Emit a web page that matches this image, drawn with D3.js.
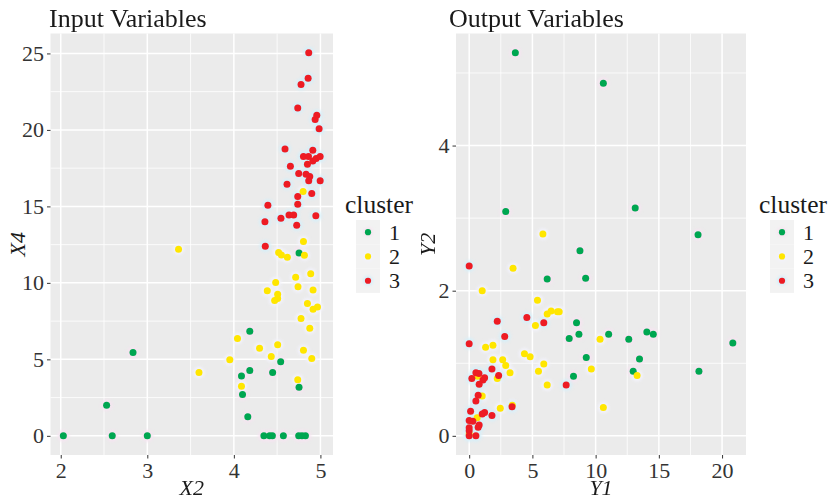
<!DOCTYPE html>
<html><head><meta charset="utf-8">
<script src="https://cdn.jsdelivr.net/npm/d3@7/dist/d3.min.js"></script>
<style>
body{margin:0;background:#fff}
svg text{font-family:"Liberation Serif","Tinos","Times New Roman","DejaVu Serif","Noto Serif",serif !important}
</style>
</head><body>
<svg id="chart" width="832" height="498"></svg>
<script>
// ---------- data ----------
const clusters = ["1", "2", "3"];
const clusterColors = ["#00A651", "#FFE600", "#ED1C24"];
const haloColors = ["#F7E4F1", "#F2F2FC", "#D4EFFA"];

// Input Variables: [X2, X4]
const input1 = [[2.03,0],[2.595,0],[3.0,0],[4.347,0],[4.413,0],[4.445,0],[4.572,0],[4.749,0],[4.787,0],[4.827,0],
  [2.53,2.0],[2.835,5.45],[4.161,1.24],[4.10,2.70],[4.088,3.92],[4.184,4.27],[4.184,6.84],[4.448,4.14],[4.541,4.84],
  [4.753,3.18],[4.753,11.96]];
const input2 = [[3.361,12.2],[3.597,4.14],[3.953,4.97],[4.042,6.36],[4.088,3.25],[4.297,5.73],[4.432,5.19],[4.506,5.95],
  [4.804,5.60],[4.90,5.06],[4.738,3.66],[4.877,7.04],[4.776,7.67],[4.915,8.28],[4.966,8.43],[4.85,8.65],[4.471,8.85],
  [4.506,8.98],[4.506,9.26],[4.386,9.48],[4.915,9.54],[4.741,9.74],[4.483,10.03],[4.714,10.37],[4.888,10.59],
  [4.618,11.68],[4.815,11.81],[4.549,11.83],[4.517,11.99],[4.804,12.70],[4.80,15.97]];
const input3 = [[4.363,12.40],[4.359,13.99],[4.726,13.77],[4.544,14.23],[4.637,14.44],[4.691,14.44],[4.947,14.38],
  [4.393,15.08],[4.738,15.14],[4.738,15.65],[4.90,15.84],[4.614,16.45],[4.865,16.67],[4.997,16.67],[4.877,16.95],
  [4.834,17.10],[4.749,17.15],[4.653,17.63],[4.85,17.76],[4.912,17.97],[4.951,18.13],[4.804,18.26],[4.862,18.26],
  [4.997,18.26],[4.912,18.67],[4.591,18.76],[4.985,20.07],[4.939,20.68],[4.958,20.96],[4.738,21.44],[4.776,22.97],
  [4.858,23.38],[4.865,25.05]];

// Output Variables: [Y1, Y2]
const output1 = [[3.65,5.28],[10.61,4.86],[2.89,3.09],[13.13,3.14],[18.10,2.77],[8.76,2.55],[6.17,2.16],[9.21,2.17],
  [8.49,1.56],[7.91,1.34],[8.68,1.40],[11.03,1.40],[12.62,1.33],[14.05,1.43],[14.56,1.40],[20.85,1.28],[9.26,1.08],
  [13.47,1.06],[12.97,0.89],[18.17,0.89],[8.25,0.82]];
const output2 = [[5.83,2.78],[5.40,1.87],[6.17,1.68],[6.48,1.72],[6.98,1.71],[7.12,1.71],[5.24,1.52],[10.35,1.33],
  [4.37,1.13],[4.82,1.09],[5.90,0.99],[5.48,0.89],[9.66,0.92],[13.28,0.83],[6.17,0.70],[10.61,0.39],[3.47,2.31],
  [1.03,2.0],[1.30,1.22],[1.88,1.25],[1.88,1.05],[2.65,1.05],[2.89,0.97],[3.23,0.87],[0.67,0.82],[2.22,0.79],
  [1.03,0.55],[3.41,0.42],[2.46,0.38],[0.63,0.25],[0.0,0.03]];
const output3 = [[4.56,1.63],[5.90,1.56],[7.67,0.70],[0.0,2.34],[2.22,1.58],[2.81,1.37],[0.0,1.27],[1.80,0.92],
  [0.53,0.87],[0.77,0.86],[0.21,0.79],[1.22,0.80],[1.09,0.77],[2.33,0.83],[0.79,0.71],[0.71,0.56],[0.53,0.48],
  [3.39,0.40],[1.80,0.28],[1.22,0.32],[1.03,0.30],[0.11,0.34],[0.29,0.20],[0.0,0.21],[0.79,0.15],[0.71,0.12],
  [0.0,0.11],[0.0,0.07],[0.0,0.0],[0.53,0.0]];

const inputXTicks = [2, 3, 4, 5];
const inputYTicks = [0, 5, 10, 15, 20, 25];
const outputXTicks = [0, 5, 10, 15, 20];
const outputYTicks = [0, 2, 4];

// ---------- drawing ----------
const FONT = '"Liberation Serif","Tinos","Times New Roman","DejaVu Serif","Noto Serif",serif';
const svg = d3.select("#chart");
const defs = svg.append("defs");
defs.append("filter").attr("id", "glow").attr("x", "-100%").attr("y", "-100%").attr("width", "300%").attr("height", "300%")
  .append("feGaussianBlur").attr("stdDeviation", 1.7);

function expand(ext) { const d = (ext[1] - ext[0]) * 0.05; return [ext[0] - d, ext[1] + d]; }
function minorOf(ticks, domain) {
  const step = ticks[1] - ticks[0];
  const out = [];
  for (let v = ticks[0] - step / 2; v <= domain[1]; v += step) if (v >= domain[0]) out.push(v);
  return out;
}

function panel(opts) {
  const { left, right, top, bottom, groups, xTicks, yTicks, title, titleX, xLabel, yLabel, yLabelX, legendX } = opts;
  const all = groups.flat();
  const xDom = expand(d3.extent(all, d => d[0]));
  const yDom = expand(d3.extent(all, d => d[1]));
  const x = d3.scaleLinear().domain(xDom).range([left, right]);
  const y = d3.scaleLinear().domain(yDom).range([bottom, top]);
  const g = svg.append("g").attr("font-family", FONT);

  g.append("rect").attr("x", left).attr("y", top).attr("width", right - left).attr("height", bottom - top).attr("fill", "#EBEBEB");
  g.selectAll(".mx").data(minorOf(xTicks, xDom)).join("line")
    .attr("x1", d => x(d)).attr("x2", d => x(d)).attr("y1", top).attr("y2", bottom)
    .attr("stroke", "#fff").attr("stroke-width", 0.8);
  g.selectAll(".my").data(minorOf(yTicks, yDom)).join("line")
    .attr("y1", d => y(d)).attr("y2", d => y(d)).attr("x1", left).attr("x2", right)
    .attr("stroke", "#fff").attr("stroke-width", 0.8);
  g.selectAll(".Mx").data(xTicks).join("line")
    .attr("x1", d => x(d)).attr("x2", d => x(d)).attr("y1", top).attr("y2", bottom)
    .attr("stroke", "#fff").attr("stroke-width", 1.5);
  g.selectAll(".My").data(yTicks).join("line")
    .attr("y1", d => y(d)).attr("y2", d => y(d)).attr("x1", left).attr("x2", right)
    .attr("stroke", "#fff").attr("stroke-width", 1.5);

  const ax = g.append("g").attr("transform", `translate(0,${bottom})`)
    .call(d3.axisBottom(x).tickValues(xTicks).tickSize(3.5).tickPadding(3).tickFormat(d3.format("d")));
  const ay = g.append("g").attr("transform", `translate(${left},0)`)
    .call(d3.axisLeft(y).tickValues(yTicks).tickSize(3.5).tickPadding(3).tickFormat(d3.format("d")));
  [ax, ay].forEach(a => {
    a.attr("font-family", FONT).attr("font-size", 22);
    a.select(".domain").remove();
    a.selectAll(".tick line").attr("stroke", "#333").attr("stroke-width", 1);
    a.selectAll(".tick text").attr("fill", "#333").attr("font-size", 22).attr("font-family", FONT);
  });
  ax.selectAll(".tick text").attr("dy", "0.76em");

  groups.forEach((pts, i) => {
    g.append("g").attr("filter", "url(#glow)").selectAll("circle").data(pts).join("circle")
      .attr("cx", d => x(d[0])).attr("cy", d => y(d[1])).attr("r", 5.8)
      .attr("fill", haloColors[i]).attr("opacity", 0.95);
  });
  groups.forEach((pts, i) => {
    g.append("g").selectAll("circle").data(pts).join("circle")
      .attr("cx", d => x(d[0])).attr("cy", d => y(d[1])).attr("r", 3.5)
      .attr("fill", clusterColors[i]);
  });

  g.append("text").attr("x", titleX).attr("y", 27).attr("font-size", 26).attr("fill", "#1a1a1a").text(title);
  g.append("text").attr("x", (left + right) / 2).attr("y", 495).attr("text-anchor", "middle")
    .attr("font-size", 22).attr("font-style", "italic").attr("fill", "#1a1a1a").text(xLabel);
  g.append("text").attr("transform", `translate(${yLabelX},${(top + bottom) / 2}) rotate(-90)`)
    .attr("text-anchor", "middle").attr("font-size", 22).attr("font-style", "italic").attr("fill", "#1a1a1a").text(yLabel);

  const lg = g.append("g");
  lg.append("text").attr("x", legendX - 11).attr("y", 213).attr("font-size", 25.5).attr("fill", "#1a1a1a").text("cluster");
  const keyH = 24.3, keyTop = 220;
  clusters.forEach((c, i) => {
    const cy = keyTop + keyH * i + keyH / 2;
    lg.append("rect").attr("x", legendX).attr("y", keyTop + keyH * i).attr("width", 24).attr("height", keyH).attr("fill", "#F2F2F2");
    lg.append("circle").attr("cx", legendX + 12).attr("cy", cy).attr("r", 5).attr("fill", haloColors[i]).attr("filter", "url(#glow)");
    lg.append("circle").attr("cx", legendX + 12).attr("cy", cy).attr("r", 3.1).attr("fill", clusterColors[i]);
    lg.append("text").attr("x", legendX + 33).attr("y", cy + 7.5).attr("font-size", 22).attr("fill", "#1a1a1a").text(c);
  });
}

panel({ left: 50.5, right: 333, top: 33.5, bottom: 455, groups: [input1, input2, input3],
  xTicks: inputXTicks, yTicks: inputYTicks, title: "Input Variables", titleX: 49, xLabel: "X2", yLabel: "X4", yLabelX: 25, legendX: 356 });
panel({ left: 456, right: 746, top: 33.5, bottom: 455, groups: [output1, output2, output3],
  xTicks: outputXTicks, yTicks: outputYTicks, title: "Output Variables", titleX: 449, xLabel: "Y1", yLabel: "Y2", yLabelX: 435, legendX: 770 });
</script>
</body></html>
